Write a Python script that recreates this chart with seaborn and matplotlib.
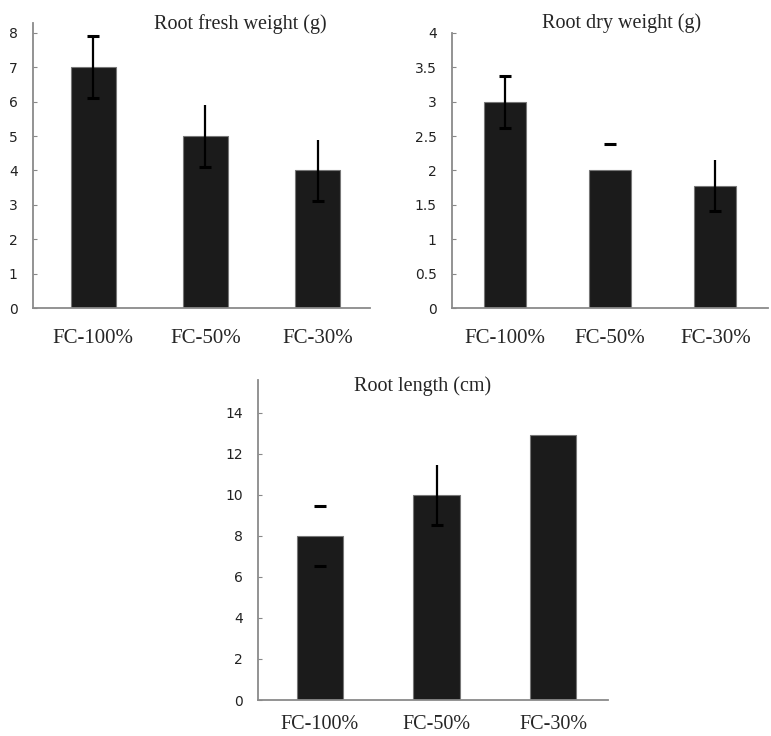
import numpy as np
import pandas as pd
import matplotlib
matplotlib.use("Agg")
import matplotlib.pyplot as plt
import seaborn as sns

# treatments
categories = ["FC-100%", "FC-50%", "FC-30%"]

# Root fresh weight (g)
fresh_mean = [7.0, 5.0, 4.0]
fresh_err = [0.9, 0.9, 0.9]

# Root dry weight (g)
dry_mean = [3.0, 2.0, 1.78]
dry_err = [0.38, 0.38, 0.37]

# Root length (cm)
length_mean = [8.0, 10.0, 12.9]
length_err = [1.45, 1.45, 0.0]

# which parts of each error bar are visible in the original (line, top cap, bottom cap)
fresh_show = [(1, 1, 1), (1, 0, 1), (1, 0, 1)]
dry_show = [(1, 1, 1), (0, 1, 0), (1, 0, 1)]
length_show = [(0, 1, 1), (1, 0, 1), (0, 0, 0)]

W, H = 771, 736
sns.set_style("white")
fig = plt.figure(figsize=(W / 100, H / 100), dpi=100)


def make_axes(left, right, top, bottom):
    return fig.add_axes([left / W, 1 - bottom / H, (right - left) / W, (bottom - top) / H])


def panel(ax, means, errs, show, title, ymax, yticks, ticklabels, tx, ty,
          xshift=0.0, xpad=14, xfs=15):
    df = pd.DataFrame({"trt": categories, "val": means})
    sns.barplot(data=df, x="trt", y="val", color="#1b1b1b", width=0.4,
                edgecolor="#777777", linewidth=0.8, saturation=1, ax=ax)
    x = np.arange(len(categories))
    for i in range(len(categories)):
        line, top, bot = show[i]
        if line:
            ax.errorbar(x[i], means[i], yerr=errs[i], fmt="none", ecolor="black",
                        elinewidth=1.6, capsize=0, zorder=5)
        if top:
            ax.plot(x[i], means[i] + errs[i], marker="_", ms=8, mew=2.2, color="black", zorder=6)
        if bot:
            ax.plot(x[i], means[i] - errs[i], marker="_", ms=8, mew=2.2, color="black", zorder=6)
    # bars sit a little right of the category centres in the original
    ax.set_xlim(-0.5 - xshift, 2.5 - xshift)
    ax.set_ylim(0, ymax)
    ax.set_yticks(yticks)
    ax.set_yticklabels(ticklabels, fontfamily="DejaVu Sans", fontsize=10, color="#222222")
    ax.set_xlabel("")
    ax.set_ylabel("")
    for lab in ax.get_xticklabels():
        lab.set_fontfamily("Liberation Serif")
        lab.set_fontsize(xfs)
    ax.set_xticks([0.5 - xshift, 1.5 - xshift, 2.5 - xshift], minor=True)
    ax.tick_params(axis="x", which="major", length=0, pad=xpad)
    ax.tick_params(axis="x", which="minor", length=4, direction="out", color="#888888", width=1)
    ax.tick_params(axis="y", length=3, direction="in", color="#888888", pad=11, left=True)
    sns.despine(ax=ax)
    for s in ["left", "bottom"]:
        ax.spines[s].set_color("#8a8a8a")
        ax.spines[s].set_linewidth(1.3)
    ax.text(tx, ty, title, transform=ax.transAxes, ha="center", va="center",
            fontfamily="Liberation Serif", fontsize=14.5)


ax1 = make_axes(33, 370, 23, 308)
panel(ax1, fresh_mean, fresh_err, fresh_show, "Root fresh weight (g)", 8.29,
      range(0, 9), [str(v) for v in range(0, 9)], 0.614, 0.995,
      xshift=0.035, xpad=15)

ax2 = make_axes(452, 768, 33, 308)
dry_ticks = [0, 0.5, 1, 1.5, 2, 2.5, 3, 3.5, 4]
panel(ax2, dry_mean, dry_err, dry_show, "Root dry weight (g)", 4.0,
      dry_ticks, ["0", "0.5", "1", "1.5", "2", "2.5", "3", "3.5", "4"], 0.538, 1.035,
      xpad=15)

ax3 = make_axes(258, 608, 380, 700)
len_ticks = list(range(0, 15, 2))
panel(ax3, length_mean, length_err, length_show, "Root length (cm)", 15.6,
      len_ticks, [str(v) for v in len_ticks], 0.469, 0.981,
      xshift=0.03, xpad=11, xfs=14.5)

fig.savefig("out.png", dpi=100)
